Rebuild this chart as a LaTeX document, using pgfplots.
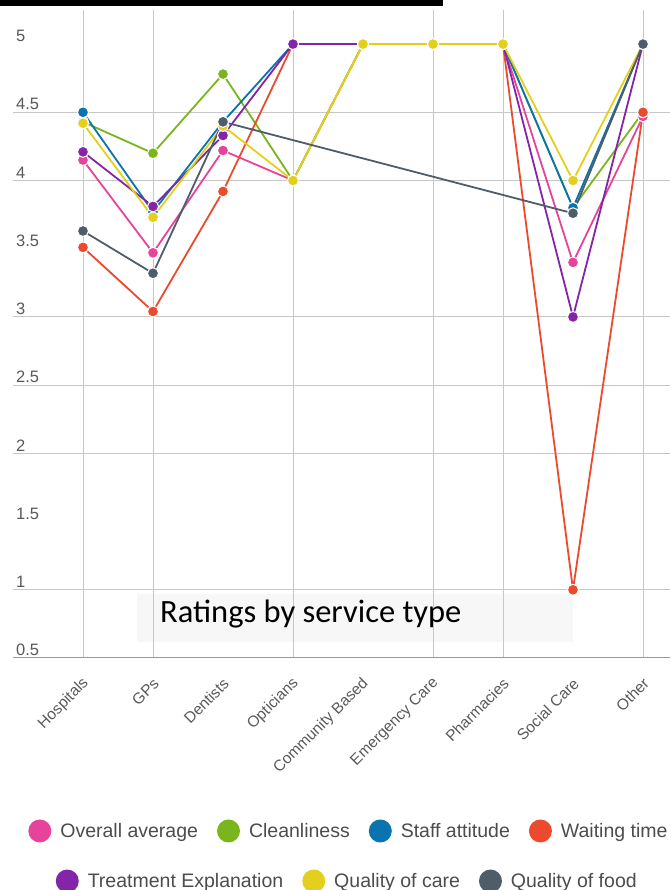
\documentclass[border=0pt]{standalone}
\usepackage{pgfplots}
\pgfplotsset{compat=1.18}
\usepackage{fontspec}
\setmainfont{Liberation Sans}
\newfontfamily\titlefont{Carlito}
\definecolor{cPink}{HTML}{E6449A}
\definecolor{cGreen}{HTML}{7AB51D}
\definecolor{cBlue}{HTML}{0A73B0}
\definecolor{cRed}{HTML}{EB4A2E}
\definecolor{cPurple}{HTML}{8424A8}
\definecolor{cYellow}{HTML}{E3D01C}
\definecolor{cGray}{HTML}{4E5D6A}
\pgfplotsset{
  ser/.style={#1, line width=1.8pt, mark=*, mark size=5.5pt, mark options={draw=white, fill=#1, line width=1pt}},
  leg/.style={legend style={at={(axis description cs:#1)}, anchor=center, draw=none, fill=none,
      font=\fontsize{19.5}{21}\selectfont, text=black!70, column sep=0pt,
      /tikz/every even column/.append style={column sep=10pt}, nodes={inner xsep=9pt}},
    legend cell align=left,
    legend image code/.code={\fill[##1, draw=none] (0pt,0pt) circle (11.5pt);}},
  legaxis/.style={at={(0pt,0pt)}, anchor=south west, scale only axis, width=670pt, height=890pt,
    hide axis, xmin=0, xmax=1, ymin=0, ymax=1},
}
\begin{document}
\begin{tikzpicture}[x=1pt,y=1pt]
\useasboundingbox (0,0) rectangle (670,890);
\fill[black] (0,884) rectangle (443,890);
\fill[black!3] (137,248) rectangle (573,296);
\begin{axis}[at={(13pt,232pt)}, anchor=south west, scale only axis, width=657pt, height=648pt,
  xmin=-1, xmax=8.386, ymin=0.5, ymax=5.25,
  axis line style={draw=none}, major tick length=0pt,
  xtick={0,...,8},
  xticklabels={Hospitals,GPs,Dentists,Opticians,Community Based,Emergency Care,Pharmacies,Social Care,Other},
  xticklabel style={rotate=45, anchor=east, font=\fontsize{15.5}{16}\selectfont, text=black!65, xshift=-10.7pt, yshift=-18.5pt},
  ytick={0.5,1,1.5,2,2.5,3,3.5,4,4.5,5},
  yticklabel style={anchor=south west, font=\fontsize{16.5}{17}\selectfont, text=black!65, inner sep=2pt, xshift=1pt,
    /pgf/number format/fixed, /pgf/number format/precision=1},
  /pgf/number format/assume math mode=true,
  extra x ticks={0,1,3,5,6,8}, extra x tick labels={}, extra x tick style={grid=major},
  extra y ticks={1,2,2.5,3,4,4.5}, extra y tick labels={}, extra y tick style={grid=major},
  major grid style={draw=black!22, line width=0.9pt},
  clip=false,
]
\draw[black!40, line width=1pt] (axis cs:-1,0.5) -- (axis cs:8.386,0.5);
\addplot[ser=cPink] coordinates {(0,4.15)(1,3.47)(2,4.22)(3,4.0)(4,5)(5,5)(6,5)(7,3.4)(8,4.47)};
\addplot[ser=cGreen] coordinates {(0,4.43)(1,4.2)(2,4.78)(3,4.0)(4,5)(5,5)(6,5)(7,3.8)(8,4.5)};
\addplot[ser=cBlue] coordinates {(0,4.5)(1,3.77)(2,4.43)(3,5)(4,5)(5,5)(6,5)(7,3.8)(8,5)};
\addplot[ser=cRed] coordinates {(0,3.51)(1,3.04)(2,3.92)(3,5)(4,5)(5,5)(6,5)(7,1.0)(8,4.5)};
\addplot[ser=cPurple] coordinates {(0,4.21)(1,3.81)(2,4.33)(3,5)(4,5)(5,5)(6,5)(7,3.0)(8,5)};
\addplot[ser=cYellow] coordinates {(0,4.42)(1,3.73)(2,4.4)(3,4.0)(4,5)(5,5)(6,5)(7,4.0)(8,5)};
\addplot[ser=cGray] coordinates {(0,3.63)(1,3.32)(2,4.43)(7,3.76)(8,5)};
\end{axis}
\begin{axis}[legaxis, leg={0.526,0.0663}, legend columns=4]
\addlegendimage{ser=cPink}\addlegendentry{Overall average}
\addlegendimage{ser=cGreen}\addlegendentry{Cleanliness}
\addlegendimage{ser=cBlue}\addlegendentry{Staff attitude}
\addlegendimage{ser=cRed}\addlegendentry{Waiting time}
\end{axis}
\begin{axis}[legaxis, leg={0.5235,0.0101}, legend columns=3]
\addlegendimage{ser=cPurple}\addlegendentry{Treatment Explanation}
\addlegendimage{ser=cYellow}\addlegendentry{Quality of care}
\addlegendimage{ser=cGray}\addlegendentry{Quality of food}
\end{axis}
\node[anchor=west, inner sep=0pt] at (160,276) {\titlefont\fontsize{32.5}{33}\selectfont Ratings by service type};
\end{tikzpicture}
\end{document}
